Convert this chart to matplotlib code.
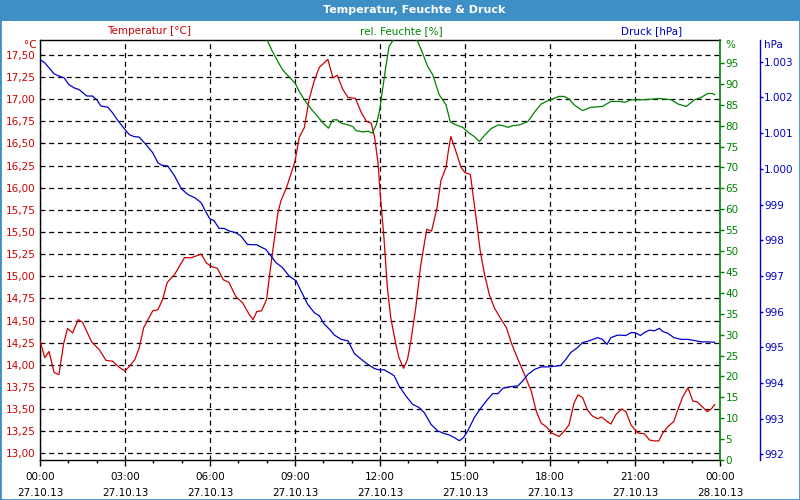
#! /usr/bin/env python

# Temperatur, Feuchte & Druck - weather station log of 27.10.13
# Three series on one time axis: temperature (left), humidity and pressure (right)

import numpy as np
import matplotlib
matplotlib.use('Agg')
import matplotlib.pyplot as plt
from matplotlib.patches import Rectangle
from matplotlib.ticker import FuncFormatter, MultipleLocator, FixedLocator

# ----- data, time in hours after 27.10.13 00:00 -----
temp_hours = [0.0, 0.17, 0.32, 0.5, 0.67, 0.83, 0.97, 1.15, 1.35, 1.5, 1.82, 2.09, 2.33, 2.56,
              2.8, 3.0, 3.15, 3.35, 3.5, 3.66, 3.98, 4.16, 4.33, 4.49, 4.75, 5.1, 5.34, 5.69,
              5.87, 6.05, 6.26, 6.47, 6.67, 6.91, 7.15, 7.38, 7.52, 7.65, 7.82, 8.0, 8.09,
              8.2, 8.39, 8.5, 8.7, 9.0, 9.15, 9.33, 9.5, 9.68, 9.86, 10.16, 10.34, 10.49,
              10.69, 10.87, 11.13, 11.34, 11.52, 11.69, 11.81, 11.93, 12.0, 12.14, 12.26,
              12.38, 12.56, 12.67, 12.83, 12.97, 13.09, 13.26, 13.44, 13.65, 13.82, 14.01,
              14.15, 14.33, 14.41, 14.5, 14.68, 14.86, 15.0, 15.19, 15.39, 15.54, 15.69,
              15.86, 16.04, 16.28, 16.46, 16.63, 16.87, 17.1, 17.34, 17.52, 17.69, 17.87,
              18.05, 18.32, 18.5, 18.67, 18.85, 18.99, 19.15, 19.32, 19.5, 19.68, 19.82,
              20.01, 20.15, 20.33, 20.53, 20.68, 20.86, 21.1, 21.33, 21.51, 21.66, 21.84,
              21.98, 22.16, 22.37, 22.51, 22.69, 22.87, 23.04, 23.2, 23.36, 23.55, 23.69,
              23.81]
temp_values = [14.27, 14.08, 14.15, 13.91, 13.89, 14.23, 14.41, 14.36, 14.51, 14.48, 14.26,
               14.17, 14.05, 14.04, 13.97, 13.93, 13.98, 14.06, 14.19, 14.42, 14.61, 14.62,
               14.74, 14.93, 15.02, 15.21, 15.21, 15.25, 15.15, 15.11, 15.09, 14.96, 14.93,
               14.77, 14.70, 14.57, 14.51, 14.60, 14.61, 14.74, 14.98, 15.25, 15.70, 15.85,
               16.00, 16.30, 16.57, 16.68, 17.00, 17.21, 17.36, 17.45, 17.24, 17.27, 17.11,
               17.02, 17.01, 16.85, 16.75, 16.73, 16.57, 16.28, 15.96, 15.43, 14.87, 14.53,
               14.23, 14.08, 13.96, 14.06, 14.27, 14.64, 15.13, 15.53, 15.51, 15.77, 16.08,
               16.23, 16.41, 16.58, 16.41, 16.23, 16.17, 16.15, 15.66, 15.28, 15.02, 14.79,
               14.64, 14.51, 14.42, 14.25, 14.06, 13.89, 13.70, 13.47, 13.34, 13.30, 13.23,
               13.19, 13.25, 13.32, 13.57, 13.66, 13.63, 13.49, 13.42, 13.39, 13.41, 13.36,
               13.33, 13.44, 13.50, 13.47, 13.32, 13.23, 13.22, 13.15, 13.14, 13.14, 13.23,
               13.30, 13.36, 13.49, 13.64, 13.74, 13.59, 13.58, 13.53, 13.47, 13.50, 13.55]

# humidity above the top of the scale (>100.5 %) is simply cut off in the original
hum_hours = [0.0, 0.1, 4.0, 7.95, 8.03, 8.2, 8.39, 8.56, 8.8, 9.0, 9.15, 9.33, 9.57, 9.8,
             10.02, 10.18, 10.34, 10.49, 10.63, 10.87, 11.04, 11.16, 11.4, 11.58, 11.72,
             11.87, 11.99, 12.08, 12.2, 12.32, 12.44, 12.5, 13.25, 13.32, 13.5, 13.68,
             13.86, 14.09, 14.33, 14.48, 14.68, 14.92, 15.15, 15.33, 15.51, 15.69, 15.92,
             16.18, 16.34, 16.51, 16.69, 16.93, 17.22, 17.46, 17.69, 18.0, 18.32, 18.5,
             18.67, 18.85, 19.15, 19.44, 19.85, 20.15, 20.45, 20.65, 20.86, 21.33, 21.86,
             22.28, 22.51, 22.81, 23.1, 23.34, 23.57, 23.75, 23.81]
hum_values = [100.6, 102.0, 102.0, 101.0, 100.3, 97.8, 95.4, 93.4, 91.6, 90.2, 88.2, 86.2,
              84.0, 82.2, 80.4, 79.4, 81.4, 81.4, 80.6, 80.2, 79.8, 78.8, 78.5, 78.7, 78.2,
              80.2, 83.8, 88.2, 93.8, 99.0, 100.2, 101.5, 101.5, 100.3, 97.4, 94.2, 92.2,
              87.4, 85.0, 80.9, 80.2, 79.6, 78.2, 77.4, 76.2, 77.7, 79.3, 80.2, 80.0, 79.6,
              80.0, 80.2, 81.0, 83.3, 85.2, 86.2, 87.0, 87.0, 86.4, 85.0, 83.6, 84.4, 84.6,
              85.8, 85.8, 85.6, 86.2, 86.2, 86.5, 86.2, 85.2, 84.6, 86.2, 86.8, 87.7, 87.7,
              87.4]

pres_hours = [0.0, 0.17, 0.32, 0.5, 0.67, 0.85, 1.02, 1.2, 1.38, 1.65, 1.85, 2.0, 2.15, 2.39,
              2.56, 2.74, 3.0, 3.15, 3.33, 3.5, 3.74, 3.98, 4.16, 4.3, 4.51, 4.75, 4.99,
              5.22, 5.46, 5.69, 5.81, 5.99, 6.14, 6.32, 6.5, 6.67, 6.91, 7.09, 7.32, 7.65,
              7.97, 8.15, 8.33, 8.56, 8.8, 9.04, 9.21, 9.45, 9.68, 9.86, 10.02, 10.22,
              10.39, 10.63, 10.87, 11.1, 11.34, 11.57, 11.81, 12.0, 12.14, 12.32, 12.5,
              12.67, 12.91, 13.15, 13.38, 13.56, 13.8, 14.03, 14.27, 14.45, 14.62, 14.8,
              14.95, 15.1, 15.33, 15.57, 15.8, 15.98, 16.16, 16.34, 16.57, 16.87, 17.04,
              17.22, 17.46, 17.69, 18.0, 18.38, 18.56, 18.73, 18.97, 19.15, 19.38, 19.68,
              19.85, 20.01, 20.15, 20.39, 20.68, 20.86, 21.0, 21.19, 21.33, 21.51, 21.69,
              21.86, 21.98, 22.16, 22.37, 22.63, 22.87, 23.1, 23.34, 23.57, 23.81]
pres_values = [1003.06, 1002.97, 1002.83, 1002.66, 1002.60, 1002.55, 1002.36, 1002.27,
               1002.22, 1002.04, 1002.04, 1001.94, 1001.76, 1001.73, 1001.57, 1001.36,
               1001.10, 1000.96, 1000.90, 1000.89, 1000.68, 1000.45, 1000.17, 1000.10,
               1000.08, 999.80, 999.44, 999.28, 999.19, 999.05, 998.86, 998.60, 998.55,
               998.33, 998.33, 998.26, 998.21, 998.12, 997.88, 997.87, 997.74, 997.56,
               997.37, 997.23, 996.99, 996.86, 996.58, 996.20, 995.97, 995.88, 995.66,
               995.50, 995.34, 995.22, 995.18, 994.82, 994.66, 994.52, 994.40, 994.36,
               994.37, 994.29, 994.20, 993.92, 993.64, 993.40, 993.31, 993.17, 992.84,
               992.66, 992.58, 992.54, 992.47, 992.38, 992.47, 992.66, 993.03, 993.31,
               993.54, 993.70, 993.70, 993.85, 993.89, 993.92, 994.06, 994.24, 994.38,
               994.45, 994.45, 994.49, 994.66, 994.85, 994.99, 995.13, 995.18, 995.27,
               995.22, 995.08, 995.27, 995.34, 995.33, 995.41, 995.41, 995.33, 995.41,
               995.48, 995.46, 995.53, 995.44, 995.39, 995.27, 995.22, 995.22, 995.19,
               995.15, 995.15, 995.14]

x_tick_hours = [0, 3, 6, 9, 12, 15, 18, 21, 24]
x_tick_labels = ['00:00\n27.10.13', '03:00\n27.10.13', '06:00\n27.10.13', '09:00\n27.10.13',
                 '12:00\n27.10.13', '15:00\n27.10.13', '18:00\n27.10.13', '21:00\n27.10.13',
                 '00:00\n28.10.13']

temp_ticks = np.arange(13.0, 17.51, 0.25)
hum_ticks = np.arange(0, 96, 5)
pres_ticks = np.arange(992, 1004, 1)

# colours
red = '#cc0000'
green = '#008000'
blue = '#0000cc'
bar_blue = '#3d8fc6'

W, H = 800., 500.
PX = 72. / 100.     # one pixel in points (dpi 100)
fs = 7.5
plt.rcParams['font.family'] = 'DejaVu Sans'

fig = plt.figure(figsize=(8, 5), dpi=100, facecolor='white')

# plot area in pixels: x 40..720, y 40..460
ax = fig.add_axes([40/W, 1 - 460/H, 680/W, 420/H])
ax.set_facecolor('white')

# title bar and thin border around the whole picture
fig.patches.append(Rectangle((0, 1 - 21/H), 1, 21/H, transform=fig.transFigure,
                             facecolor=bar_blue, edgecolor='none', zorder=0))
fig.patches.append(Rectangle((0, 0), 1, 1, transform=fig.transFigure, fill=False,
                             edgecolor=bar_blue, linewidth=2, zorder=0))
fig.text(414/W, 1 - 10/H, 'Temperatur, Feuchte & Druck', color='white', weight='bold',
         fontsize=8, ha='center', va='center')

# series captions above the plot
fig.text(149/W, 1 - 31/H, 'Temperatur [°C]', color=red, fontsize=fs, ha='center', va='center')
fig.text(401/W, 1 - 31/H, 'rel. Feuchte [%]', color=green, fontsize=fs, ha='center', va='center')
fig.text(652/W, 1 - 31/H, 'Druck [hPa]', color=blue, fontsize=fs, ha='center', va='center')

# unit captions on top of each axis
fig.text(37/W, 1 - 45/H, '°C', color=red, fontsize=fs, ha='right', va='center')
fig.text(725/W, 1 - 45/H, '%', color=green, fontsize=fs, ha='left', va='center')
fig.text(764/W, 1 - 45/H, 'hPa', color=blue, fontsize=fs, ha='left', va='center')

# ----- temperature axis (left) -----
ax.set_xlim(0, 24)
ax.set_ylim(12.924, 17.669)
ax.yaxis.set_major_locator(FixedLocator(temp_ticks))
ax.yaxis.set_major_formatter(FuncFormatter(lambda v, p: ('%.2f' % v).replace('.', ',')))
ax.tick_params(axis='y', colors=red, length=0, pad=3, labelsize=fs)
ax.set_xticks(x_tick_hours)
ax.set_xticklabels(x_tick_labels, fontsize=fs, linespacing=1.75)
ax.xaxis.set_minor_locator(MultipleLocator(1))
ax.tick_params(axis='x', which='major', length=4, width=1, pad=5, colors='black')
ax.tick_params(axis='x', which='minor', length=2, width=1)
ax.spines['right'].set_visible(False)
for s in ['left', 'top', 'bottom']:
    ax.spines[s].set_linewidth(1)
    ax.spines[s].set_color('black')
ax.grid(True, which='major', linestyle=(0, (4, 3)), color='black', linewidth=0.9)
ax.set_axisbelow(True)

ax.plot(temp_hours, temp_values, color=red, linewidth=0.9, zorder=3)

# ----- humidity axis (first right axis) -----
ax2 = ax.twinx()
ax2.set_ylim(0, 100.5)
ax2.yaxis.set_major_locator(FixedLocator(hum_ticks))
ax2.tick_params(axis='y', colors=green, direction='out', length=3, width=1, pad=1,
                labelsize=fs)
for s in ['left', 'top', 'bottom']:
    ax2.spines[s].set_visible(False)
ax2.spines['right'].set_color(green)
ax2.spines['right'].set_linewidth(1.2)
ax2.plot(hum_hours, hum_values, color=green, linewidth=0.9, zorder=3)

# ----- pressure axis (second right axis, 40 px right of the plot) -----
ax3 = ax.twinx()
ax3.spines['right'].set_position(('outward', 40 * PX))
ax3.set_ylim(991.84, 1003.61)
ax3.yaxis.set_major_locator(FixedLocator(pres_ticks))
ax3.yaxis.set_major_formatter(FuncFormatter(
    lambda v, p: '1.%03d' % round(v - 1000) if v >= 1000 else '%d' % round(v)))
ax3.tick_params(axis='y', colors=blue, direction='out', length=2, width=1, pad=1,
                labelsize=fs)
for s in ['left', 'top', 'bottom']:
    ax3.spines[s].set_visible(False)
ax3.spines['right'].set_color(blue)
ax3.spines['right'].set_linewidth(1)
ax3.plot(pres_hours, pres_values, color=blue, linewidth=0.9, zorder=3)

savefig_kw = dict(dpi=100, facecolor='white')
fig.savefig('out.png', **savefig_kw)
